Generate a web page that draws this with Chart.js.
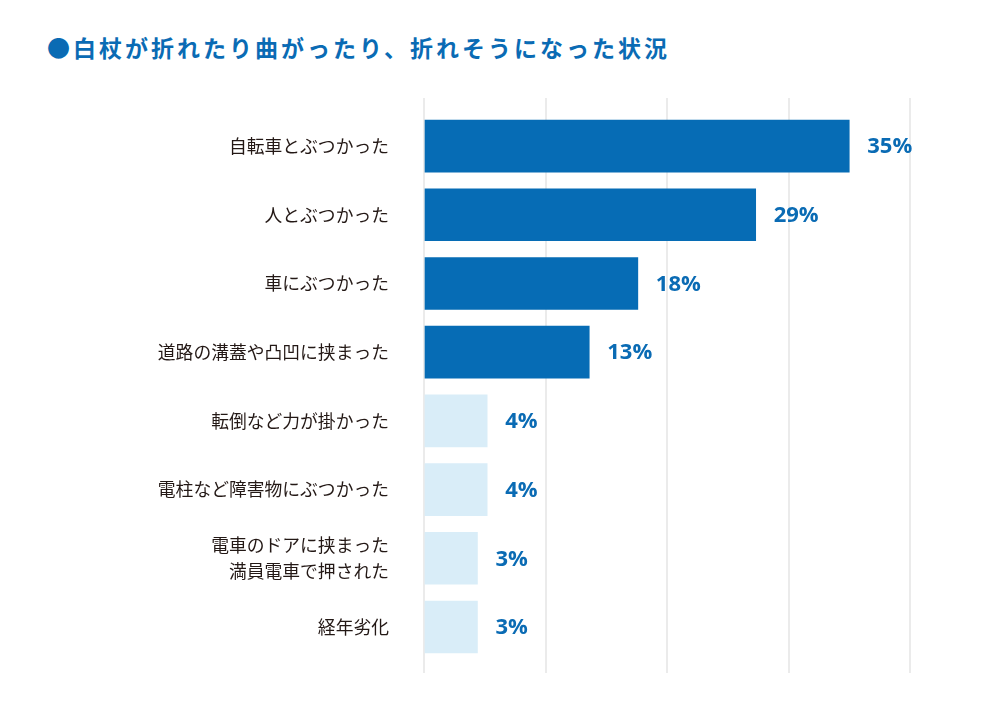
<!DOCTYPE html>
<html lang="ja">
<head>
<meta charset="utf-8">
<script src="https://cdn.jsdelivr.net/npm/chart.js@4.4.1/dist/chart.umd.min.js"></script>
<style>
  html, body { margin: 0; padding: 0; background: #ffffff; }
  #wrap { position: relative; width: 1004px; height: 702px; }
  #title {
    position: absolute; left: 47px; top: 32px; margin: 0;
    font-family: "Noto Sans CJK JP", sans-serif; font-weight: 700;
    font-size: 23px; line-height: 30px; letter-spacing: 3px;
    color: #0a6bb4; white-space: nowrap;
  }
  canvas { position: absolute; left: 0; top: 0; }
</style>
</head>
<body>
<div id="wrap">
  <h1 id="title">●白杖が折れたり曲がったり、折れそうになった状況</h1>
  <canvas id="c" width="1004" height="702"></canvas>
</div>
<script>
// ---- data ----
const categories = [
  '自転車とぶつかった',
  '人とぶつかった',
  '車にぶつかった',
  '道路の溝蓋や凸凹に挟まった',
  '転倒など力が掛かった',
  '電柱など障害物にぶつかった',
  ['電車のドアに挟まった', '満員電車で押された'],
  '経年劣化'
];
// bar lengths as drawn in the reference (percent)
const barLengths = [35.0, 27.3, 17.6, 13.6, 5.2, 5.2, 4.4, 4.4];
// percentages printed next to the bars
const valueLabels = ['35%', '29%', '18%', '13%', '4%', '4%', '3%', '3%'];
const xTicks = [0, 10, 20, 30, 40];

const darkBlue = '#066cb5';
const lightBlue = '#d9edf8';
const barColors = barLengths.map((v, i) => i < 4 ? darkBlue : lightBlue);

const valueLabelPlugin = {
  id: 'valueLabels',
  afterDatasetsDraw(chart) {
    const ctx = chart.ctx;
    const meta = chart.getDatasetMeta(0);
    ctx.save();
    ctx.font = '700 22px "Open Sans", sans-serif';
    ctx.fillStyle = '#0a6bb4';
    ctx.textAlign = 'left';
    ctx.textBaseline = 'middle';
    meta.data.forEach((bar, i) => {
      ctx.fillText(valueLabels[i], bar.x + 18, bar.y + 1);
    });
    ctx.restore();
  }
};

new Chart(document.getElementById('c'), {
  type: 'bar',
  data: {
    datasets: [{
      data: barLengths.map((v, i) => ({ x: v, y: i })),
      backgroundColor: barColors,
      borderWidth: 0,
      barThickness: 52
    }]
  },
  options: {
    indexAxis: 'y',
    responsive: false,
    animation: false,
    events: [],
    layout: { padding: { left: 0, right: 94, top: 98, bottom: 29 } },
    plugins: { legend: { display: false }, tooltip: { enabled: false }, title: { display: false } },
    scales: {
      x: {
        type: 'linear',
        min: xTicks[0],
        max: xTicks[xTicks.length - 1],
        afterBuildTicks(scale) { scale.ticks = xTicks.map(v => ({ value: v })); },
        ticks: { display: false },
        grid: { color: '#ebebeb', lineWidth: 2, drawTicks: false },
        border: { display: false },
        afterFit(scale) { scale.height = 0; }
      },
      y: {
        type: 'linear',
        reverse: true,
        offset: false,
        min: -0.7,
        max: 7.67,
        afterBuildTicks(scale) { scale.ticks = categories.map((c, i) => ({ value: i })); },
        ticks: {
          callback: (v) => categories[v],
          color: '#231815',
          padding: 35,
          font: { family: '"Noto Sans CJK JP", sans-serif', size: 17.8, weight: 'normal', lineHeight: 1.5 }
        },
        grid: { display: false, drawTicks: false },
        border: { display: false },
        afterFit(scale) { scale.width = 424; scale.paddingTop = 0; scale.paddingBottom = 0; }
      }
    }
  },
  plugins: [valueLabelPlugin]
});
</script>
</body>
</html>
